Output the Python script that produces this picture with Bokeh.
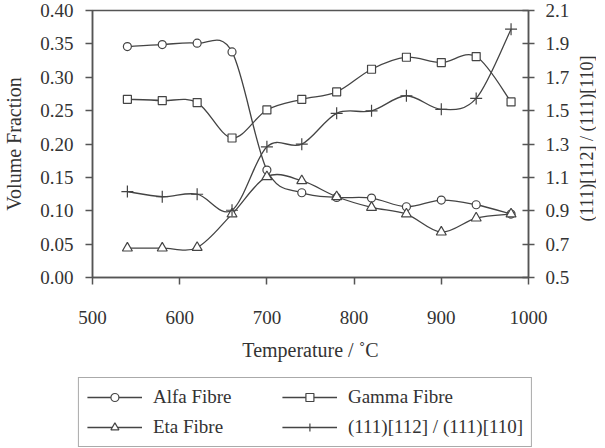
import math
from bokeh.plotting import figure
from bokeh.layouts import column, row
from bokeh.models import (Range1d, LinearAxis, FixedTicker, PrintfTickFormatter,
                          Legend, LegendItem)
from bokeh.embed import file_html
from bokeh.resources import INLINE

temperature = [540, 580, 620, 660, 700, 740, 780, 820, 860, 900, 940, 980]
alfa = [0.346, 0.349, 0.351, 0.338, 0.161, 0.127, 0.120, 0.119, 0.106, 0.116, 0.109, 0.095]
gamma = [0.267, 0.265, 0.262, 0.209, 0.251, 0.267, 0.278, 0.312, 0.330, 0.322, 0.331, 0.263]
eta = [0.044, 0.044, 0.045, 0.095, 0.151, 0.145, 0.121, 0.105, 0.095, 0.068, 0.089, 0.095]
ratio = [1.015, 0.984, 0.999, 0.903, 1.283, 1.299, 1.484, 1.499, 1.589, 1.508, 1.573, 1.988]

x_ticks = [500, 600, 700, 800, 900, 1000]
y_ticks = [0.0, 0.05, 0.10, 0.15, 0.20, 0.25, 0.30, 0.35, 0.40]
r_ticks = [0.5, 0.7, 0.9, 1.1, 1.3, 1.5, 1.7, 1.9, 2.1]
right_label = "(111)[112] / (111)[110]"

FONT = "Liberation Serif"
INK = "#444444"
AX = "#555555"
TXT = "#333333"

p = figure(width=565, height=370, frame_width=436, frame_height=267,
           output_backend="svg", toolbar_location=None,
           x_range=Range1d(500, 1000), y_range=Range1d(0, 0.4),
           min_border_left=89, min_border_right=40, min_border_top=10, min_border_bottom=0,
           x_axis_label="Temperature / ˚C", y_axis_label="Volume Fraction")
p.extra_y_ranges = {"ratio": Range1d(0.5, 2.1)}
p.xgrid.visible = False
p.ygrid.visible = False
p.outline_line_color = AX
p.outline_line_width = 1.5
p.background_fill_color = "white"
p.border_fill_color = "white"

def style_axis(ax, size="19px"):
    ax.axis_line_color = AX
    ax.axis_line_width = 1.5
    ax.major_tick_line_color = AX
    ax.major_tick_line_width = 1.5
    ax.minor_tick_line_color = None
    ax.major_label_text_font = FONT
    ax.major_label_text_font_size = size
    ax.major_label_text_color = TXT
    ax.axis_label_text_font = FONT
    ax.axis_label_text_font_size = "20px"
    ax.axis_label_text_font_style = "normal"
    ax.axis_label_text_color = TXT

xa = p.xaxis[0]
style_axis(xa)
xa.ticker = FixedTicker(ticks=x_ticks)
xa.major_tick_in = 0
xa.major_tick_out = 7
xa.major_label_standoff = 26
xa.axis_label_standoff = 12

ya = p.yaxis[0]
style_axis(ya)
ya.ticker = FixedTicker(ticks=y_ticks)
ya.formatter = PrintfTickFormatter(format="%.2f")
ya.major_tick_in = 0
ya.major_tick_out = 7
ya.major_label_standoff = 12
ya.axis_label_standoff = 12

ra = LinearAxis(y_range_name="ratio")
style_axis(ra)
ra.ticker = FixedTicker(ticks=r_ticks)
ra.formatter = PrintfTickFormatter(format="%.1f")
ra.major_tick_in = 6
ra.major_tick_out = 6
ra.major_label_standoff = 11
p.add_layout(ra, "right")


def smooth(xs, ys):
    n = len(xs)
    out = dict(x0=[], y0=[], x1=[], y1=[], cx0=[], cy0=[], cx1=[], cy1=[])
    for i in range(n - 1):
        a = max(i - 1, 0)
        d = min(i + 2, n - 1)
        out["x0"].append(xs[i]); out["y0"].append(ys[i])
        out["x1"].append(xs[i + 1]); out["y1"].append(ys[i + 1])
        out["cx0"].append(xs[i] + (xs[i + 1] - xs[a]) / 6)
        out["cy0"].append(ys[i] + (ys[i + 1] - ys[a]) / 6)
        out["cx1"].append(xs[i + 1] - (xs[d] - xs[i]) / 6)
        out["cy1"].append(ys[i + 1] - (ys[d] - ys[i]) / 6)
    return out

series = [
    ("Alfa Fibre", alfa, "circle", 8, "default"),
    ("Gamma Fibre", gamma, "square", 8, "default"),
    ("Eta Fibre", eta, "triangle", 10, "default"),
    (right_label, ratio, "cross", 12, "ratio"),
]

for name, ys, marker, size, rng in series:
    seg = smooth(temperature, ys)
    p.bezier(x0=seg["x0"], y0=seg["y0"], x1=seg["x1"], y1=seg["y1"],
             cx0=seg["cx0"], cy0=seg["cy0"], cx1=seg["cx1"], cy1=seg["cy1"],
             line_color=INK, line_width=1.3, y_range_name=rng)
    p.scatter(x=temperature, y=ys, marker=marker, size=size, line_color=INK,
              line_width=1.2, fill_color="white", y_range_name=rng)

# right axis title (reads bottom-to-top) in a narrow strip beside the plot
pl = figure(width=24, height=370, output_backend="svg", toolbar_location=None,
            x_range=Range1d(-1, 1), y_range=Range1d(-1, 1), min_border=0,
            x_axis_location=None, y_axis_location=None)
pl.xgrid.visible = False
pl.ygrid.visible = False
pl.outline_line_color = None
pl.text(x=[0], y=[0], text=[right_label], angle=math.pi / 2, x_offset=2, y_offset=-9,
        text_align="center", text_baseline="middle", text_font=FONT,
        text_font_size="18px", text_color=TXT)

# legend strip below the plot
lg = figure(width=589, height=78, output_backend="svg", toolbar_location=None,
            x_range=Range1d(0, 1), y_range=Range1d(0, 1), min_border=0, min_border_left=21,
            x_axis_location=None, y_axis_location=None)
lg.xgrid.visible = False
lg.ygrid.visible = False
lg.outline_line_color = None
items = {}
for name, ys, marker, size, rng in series:
    ln = lg.line(x=temperature, y=ys, line_color=INK, line_width=1.3)
    sc = lg.scatter(x=temperature, y=ys, marker=marker, size=size, line_color=INK,
                    line_width=1.2, fill_color="white")
    items[name] = LegendItem(label=name, renderers=[ln, sc])

# column-major fill: first column Alfa, Eta; second column Gamma, ratio
order = ["Alfa Fibre", "Eta Fibre", "Gamma Fibre", right_label]
legend = Legend(items=[items[k] for k in order], ncols=2, location="bottom_center",
                label_text_font=FONT, label_text_font_size="19px", label_text_color=TXT,
                glyph_width=55, glyph_height=20, label_height=20, label_width=121,
                label_standoff=11, padding=8, spacing=8, margin=1,
                border_line_color=AX, border_line_width=1.5,
                background_fill_alpha=1.0)
lg.add_layout(legend)

layout = column(row(p, pl), lg)
open("out.html", "w").write(file_html(layout, INLINE))
